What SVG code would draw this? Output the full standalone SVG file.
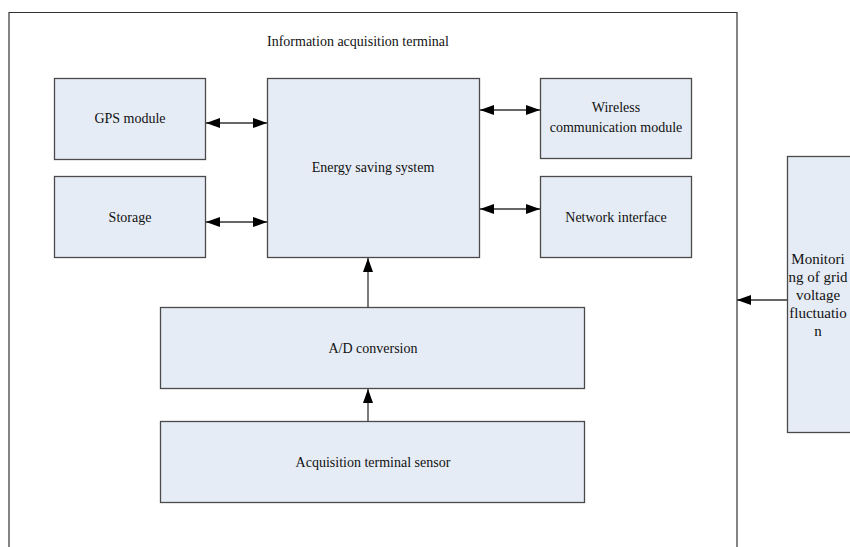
<svg xmlns="http://www.w3.org/2000/svg" width="850" height="547" viewBox="0 0 850 547">
<style>
.box{fill:#E6ECF6;stroke:#4a4a4a;stroke-width:1.3}
.frame{fill:none;stroke:#333;stroke-width:1.2}
.t{font-family:"Liberation Serif","Times New Roman",serif;font-size:14px;fill:#111;text-anchor:middle}
.m{font-size:15px}
.c{stroke:#333;stroke-width:1.3;fill:none}
</style>
<defs>
<marker id="ah" viewBox="0 0 14 10" refX="14" refY="5" markerWidth="14" markerHeight="10" markerUnits="userSpaceOnUse" orient="auto-start-reverse">
<path d="M0,0 L14,5 L0,10 z" fill="#000"/>
</marker>
</defs>
<rect width="850" height="547" fill="#fff"/>
<g id="terminal">
<path class="frame" d="M9,560 V12.5 H737 V560"/>
<text class="t" x="358" y="46">Information acquisition terminal</text>
</g>
<g id="gps"><rect class="box" x="54.5" y="78.5" width="151" height="81"/><text class="t" x="130" y="123">GPS module</text></g>
<g id="storage"><rect class="box" x="54.5" y="176.5" width="151" height="81"/><text class="t" x="130" y="222">Storage</text></g>
<g id="energy"><rect class="box" x="267.5" y="78.5" width="212" height="179"/><text class="t" x="373" y="172">Energy saving system</text></g>
<g id="wireless"><rect class="box" x="540.5" y="78.5" width="151" height="80"/><text class="t" x="616" y="112">Wireless</text><text class="t" x="616" y="132">communication module</text></g>
<g id="network"><rect class="box" x="540.5" y="176.5" width="151" height="81"/><text class="t" x="616" y="222">Network interface</text></g>
<g id="ad"><rect class="box" x="160.5" y="307.5" width="424" height="81"/><text class="t" x="373" y="353">A/D conversion</text></g>
<g id="sensor"><rect class="box" x="160.5" y="421.5" width="424" height="81"/><text class="t" x="373" y="467">Acquisition terminal sensor</text></g>
<g id="monitor"><rect class="box" x="787.5" y="156.5" width="80" height="276"/>
<text class="t m" x="818" y="264">Monitori</text>
<text class="t m" x="818" y="282">ng of grid</text>
<text class="t m" x="818" y="300">voltage</text>
<text class="t m" x="818" y="318">fluctuatio</text>
<text class="t m" x="818" y="336">n</text>
</g>
<g id="connectors">
<line class="c" x1="206" y1="123" x2="267" y2="123" marker-start="url(#ah)" marker-end="url(#ah)"/>
<line class="c" x1="206" y1="222" x2="267" y2="222" marker-start="url(#ah)" marker-end="url(#ah)"/>
<line class="c" x1="480" y1="110" x2="540" y2="110" marker-start="url(#ah)" marker-end="url(#ah)"/>
<line class="c" x1="480" y1="209" x2="540" y2="209" marker-start="url(#ah)" marker-end="url(#ah)"/>
<line class="c" x1="368" y1="307" x2="368" y2="258" marker-end="url(#ah)"/>
<line class="c" x1="368" y1="421" x2="368" y2="389" marker-end="url(#ah)"/>
<line class="c" x1="787" y1="300" x2="737" y2="300" marker-end="url(#ah)"/>
</g>
</svg>
